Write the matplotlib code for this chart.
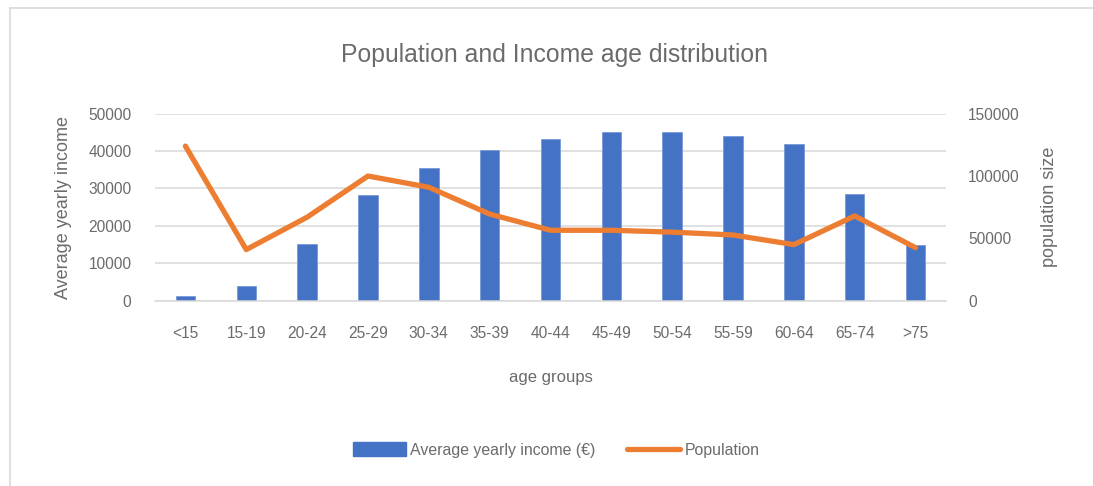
import matplotlib.pyplot as plt
import numpy as np
from matplotlib.lines import Line2D

plt.rcParams['font.family'] = ['Liberation Sans', 'DejaVu Sans']

age_groups = ["<15", "15-19", "20-24", "25-29", "30-34", "35-39", "40-44",
              "45-49", "50-54", "55-59", "60-64", "65-74", ">75"]
income = [1200, 4000, 15200, 28200, 35600, 40200, 43200,
          45000, 45000, 44100, 41900, 28500, 15000]
population = [124000, 41000, 67000, 100000, 91000, 69500, 56500,
              56500, 55000, 52700, 45000, 68000, 42500]

grey = "#6B6B6B"
blue = "#4472C4"
orange = "#ED7D31"

fig = plt.figure(figsize=(10.93, 4.86), dpi=100)
ax = fig.add_axes([155 / 1093, 1 - 300.7 / 486, 791 / 1093, 187 / 486])
ax2 = ax.twinx()

x = np.arange(len(age_groups))
ax.bar(x, income, width=0.32, color=blue, edgecolor="#7A9AD8", linewidth=0.6,
       zorder=2)
ax2.plot(x, population, color=orange, linewidth=3.8, solid_capstyle="round",
         solid_joinstyle="round", zorder=3)

ax.set_xlim(-0.5, len(age_groups) - 0.5)
ax.set_ylim(0, 50000)
ax2.set_ylim(0, 150000)
ax.set_yticks(range(0, 50001, 10000))
ax2.set_yticks(range(0, 150001, 50000))
ax.set_xticks(x)
ax.set_xticklabels(age_groups)

ax.grid(axis="y", color="#D9D9D9", linewidth=1.1, zorder=0)
ax.set_axisbelow(True)
for a in (ax, ax2):
    for s in a.spines.values():
        s.set_visible(False)
ax.spines["bottom"].set_visible(True)
ax.spines["bottom"].set_color("#D9D9D9")
ax.spines["bottom"].set_linewidth(1.1)

ax.tick_params(axis="y", length=0, pad=17, labelsize=11.2, labelcolor=grey)
ax.tick_params(axis="x", length=0, pad=18, labelsize=11.2, labelcolor=grey)
ax2.tick_params(axis="y", length=0, pad=16, labelsize=11.2, labelcolor=grey)

ax.set_ylabel("Average yearly income", fontsize=13, color=grey, labelpad=12)
ax2.set_ylabel("population size", fontsize=13, color=grey, labelpad=15)
ax.set_xlabel("age groups", fontsize=12, color=grey, labelpad=21)

fig.text(0.507, 1 - 55 / 486, "Population and Income age distribution",
         ha="center", va="center", fontsize=17.8, color=grey)

handles = [plt.Rectangle((0, 0), 1, 1, color=blue),
           Line2D([0], [0], color=orange, linewidth=3.8, solid_capstyle="round")]
fig.legend(handles, ["Average yearly income (€)", "Population"],
           loc="center", bbox_to_anchor=(0.509, 1 - 450 / 486), ncol=2,
           frameon=False, fontsize=11.4, labelcolor=grey, handlelength=3.3,
           handleheight=0.9, handletextpad=0.3, columnspacing=2.0)

# outer chart frame
fig.add_artist(Line2D([9.5 / 1093, 9.5 / 1093], [0, 1 - 8 / 486],
                      color="#D9D9D9", linewidth=1.2, transform=fig.transFigure))
fig.add_artist(Line2D([9.5 / 1093, 1], [1 - 8 / 486, 1 - 8 / 486],
                      color="#D9D9D9", linewidth=1.2, transform=fig.transFigure))

fig.savefig("out.png", dpi=100)
